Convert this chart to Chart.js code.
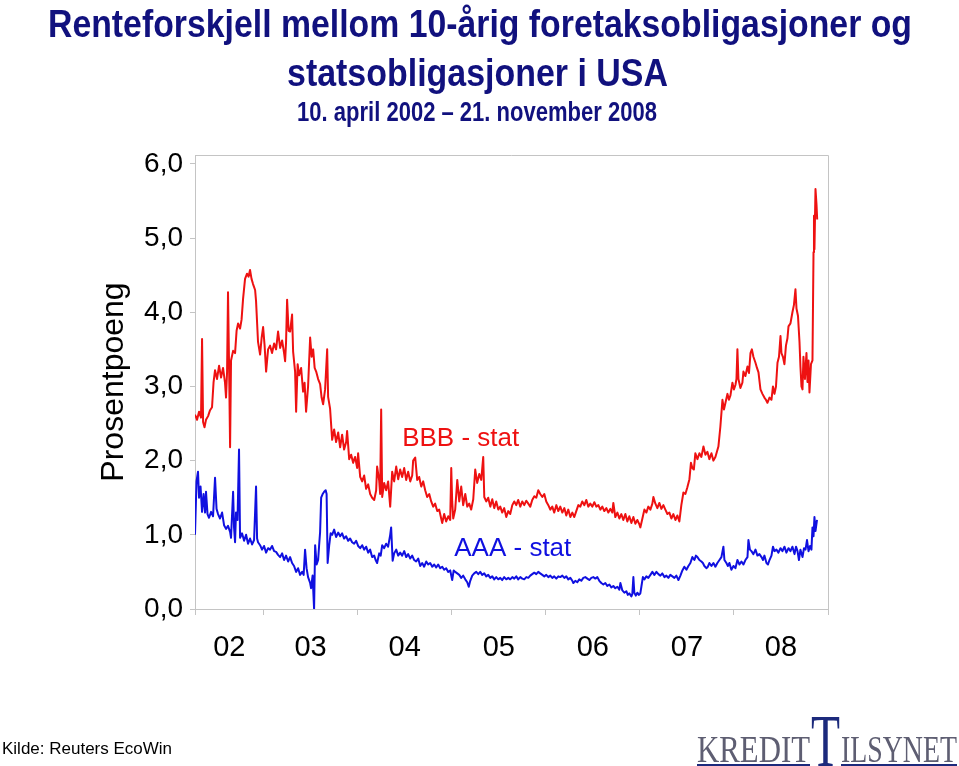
<!DOCTYPE html>
<html>
<head>
<meta charset="utf-8">
<script src="https://cdn.jsdelivr.net/npm/chart.js@4.4.1/dist/chart.umd.min.js"></script>
<style>
  html, body { margin: 0; padding: 0; background: #fff; }
  #wrap { width: 959px; height: 766px; position: relative; }
</style>
</head>
<body>
<div id="wrap"><canvas id="spreadChart"></canvas></div>
<script>
// daily spreads, dates as decimal years
const bbbDates = [
  2002.271, 2002.293, 2002.314, 2002.335, 2002.346, 2002.357, 2002.372, 2002.388, 2002.410, 2002.431, 2002.452, 2002.468, 2002.484, 2002.505, 2002.527, 2002.548, 2002.569, 2002.590, 2002.601, 2002.612, 2002.622, 2002.633, 2002.644, 2002.654, 2002.676, 2002.697, 2002.713, 2002.729, 2002.750, 2002.766, 2002.782, 2002.803, 2002.824, 2002.840, 2002.856, 2002.872, 2002.888, 2002.910, 2002.920, 2002.941, 2002.963, 2002.979, 2002.995,
  2003.011, 2003.027, 2003.048, 2003.069, 2003.090, 2003.112, 2003.133, 2003.154, 2003.176, 2003.197, 2003.218, 2003.229, 2003.239, 2003.250, 2003.266, 2003.282, 2003.303, 2003.314, 2003.335, 2003.346, 2003.362, 2003.378, 2003.399, 2003.420, 2003.436, 2003.452, 2003.473, 2003.495, 2003.511, 2003.527, 2003.543, 2003.559, 2003.580, 2003.601, 2003.617, 2003.633, 2003.654, 2003.676, 2003.686, 2003.707, 2003.729, 2003.750, 2003.771, 2003.793, 2003.814, 2003.835, 2003.856, 2003.878, 2003.888, 2003.910, 2003.931, 2003.952, 2003.973, 2003.995,
  2004.005, 2004.027, 2004.048, 2004.069, 2004.090, 2004.112, 2004.133, 2004.154, 2004.176, 2004.197, 2004.207, 2004.229, 2004.239, 2004.250, 2004.261, 2004.282, 2004.303, 2004.324, 2004.346, 2004.367, 2004.388, 2004.410, 2004.431, 2004.452, 2004.473, 2004.495, 2004.516, 2004.537, 2004.559, 2004.580, 2004.590, 2004.612, 2004.633, 2004.654, 2004.676, 2004.697, 2004.718, 2004.739, 2004.761, 2004.782, 2004.803, 2004.824, 2004.846, 2004.867, 2004.888, 2004.899, 2004.920, 2004.941, 2004.963, 2004.984, 2004.995,
  2005.005, 2005.016, 2005.037, 2005.059, 2005.080, 2005.101, 2005.122, 2005.144, 2005.165, 2005.186, 2005.207, 2005.229, 2005.250, 2005.271, 2005.293, 2005.314, 2005.335, 2005.346, 2005.367, 2005.388, 2005.410, 2005.431, 2005.452, 2005.473, 2005.495, 2005.516, 2005.537, 2005.558, 2005.580, 2005.601, 2005.622, 2005.644, 2005.665, 2005.686, 2005.707, 2005.729, 2005.750, 2005.771, 2005.793, 2005.814, 2005.835, 2005.856, 2005.878, 2005.899, 2005.920, 2005.941, 2005.963, 2005.984,
  2006.005, 2006.027, 2006.048, 2006.069, 2006.090, 2006.112, 2006.133, 2006.154, 2006.176, 2006.197, 2006.218, 2006.239, 2006.261, 2006.282, 2006.303, 2006.324, 2006.346, 2006.367, 2006.388, 2006.410, 2006.431, 2006.452, 2006.473, 2006.495, 2006.516, 2006.537, 2006.559, 2006.580, 2006.601, 2006.622, 2006.644, 2006.665, 2006.686, 2006.707, 2006.718, 2006.739, 2006.761, 2006.782, 2006.803, 2006.824, 2006.846, 2006.867, 2006.888, 2006.910, 2006.931, 2006.952, 2006.973, 2006.995,
  2007.005, 2007.027, 2007.048, 2007.069, 2007.090, 2007.112, 2007.133, 2007.144, 2007.165, 2007.186, 2007.207, 2007.229, 2007.250, 2007.271, 2007.293, 2007.314, 2007.335, 2007.356, 2007.378, 2007.399, 2007.420, 2007.441, 2007.463, 2007.484, 2007.505, 2007.527, 2007.543, 2007.558, 2007.574, 2007.590, 2007.612, 2007.633, 2007.654, 2007.676, 2007.697, 2007.718, 2007.739, 2007.761, 2007.782, 2007.803, 2007.819, 2007.835, 2007.856, 2007.878, 2007.894, 2007.910, 2007.931, 2007.947, 2007.963, 2007.984,
  2008.000, 2008.016, 2008.027, 2008.037, 2008.048, 2008.069, 2008.090, 2008.101, 2008.122, 2008.144, 2008.160, 2008.176, 2008.191, 2008.207, 2008.229, 2008.245, 2008.261, 2008.282, 2008.303, 2008.324, 2008.340, 2008.356, 2008.378, 2008.399, 2008.415, 2008.431, 2008.447, 2008.463, 2008.479, 2008.495, 2008.505, 2008.521, 2008.537, 2008.553, 2008.569, 2008.580, 2008.601, 2008.622, 2008.638, 2008.654, 2008.665, 2008.681, 2008.697, 2008.707, 2008.718, 2008.729, 2008.739, 2008.755, 2008.771, 2008.782, 2008.793, 2008.803, 2008.819, 2008.835, 2008.846, 2008.851, 2008.856, 2008.867, 2008.878, 2008.885
];
const bbbValues = [
  2.62, 2.55, 2.66, 2.58, 3.64, 2.52, 2.45, 2.55, 2.60, 2.68, 2.72, 3.05, 3.22, 3.10, 3.28, 3.12, 3.25, 3.05, 2.85, 3.20, 4.27, 3.30, 2.18, 3.35, 3.48, 3.45, 3.75, 3.85, 3.78, 3.90, 4.18, 4.45, 4.52, 4.48, 4.57, 4.45, 4.38, 4.30, 4.15, 3.60, 3.43, 3.65, 3.80,
  3.55, 3.20, 3.50, 3.55, 3.45, 3.58, 3.50, 3.74, 3.52, 3.62, 3.45, 3.34, 3.60, 4.17, 3.75, 3.74, 3.97, 3.47, 3.20, 2.66, 3.30, 3.15, 3.25, 2.93, 3.05, 2.66, 3.00, 3.66, 3.40, 3.50, 3.25, 3.20, 3.10, 3.03, 2.85, 2.76, 2.96, 3.50, 2.86, 2.70, 2.28, 2.42, 2.25, 2.38, 2.18, 2.35, 2.15, 2.25, 2.40, 2.02, 2.08, 1.97, 2.05, 1.90,
  2.10, 1.78, 1.72, 1.80, 1.62, 1.68, 1.55, 1.50, 1.47, 1.60, 1.92, 1.73, 1.55, 2.69, 1.51, 1.70, 1.60, 1.72, 1.38, 1.85, 1.72, 1.92, 1.75, 1.88, 1.78, 1.90, 1.74, 1.85, 1.72, 1.80, 2.00, 2.04, 1.74, 1.78, 1.65, 1.72, 1.60, 1.51, 1.55, 1.45, 1.38, 1.42, 1.32, 1.34, 1.22, 1.16, 1.28, 1.18, 1.25, 1.20, 1.90,
  1.45, 1.22, 1.34, 1.74, 1.45, 1.65, 1.40, 1.55, 1.38, 1.42, 1.34, 1.48, 1.88, 1.70, 1.82, 1.74, 2.05, 1.51, 1.45, 1.50, 1.38, 1.48, 1.36, 1.45, 1.34, 1.38, 1.30, 1.36, 1.24, 1.32, 1.28, 1.40, 1.45, 1.40, 1.47, 1.38, 1.45, 1.40, 1.46, 1.42, 1.38, 1.47, 1.52, 1.50, 1.60, 1.55, 1.51, 1.55,
  1.45, 1.40, 1.34, 1.38, 1.30, 1.40, 1.32, 1.38, 1.30, 1.36, 1.26, 1.34, 1.24, 1.30, 1.24, 1.32, 1.40, 1.38, 1.45, 1.40, 1.47, 1.38, 1.42, 1.38, 1.44, 1.38, 1.40, 1.34, 1.38, 1.32, 1.36, 1.30, 1.35, 1.30, 1.43, 1.24, 1.30, 1.22, 1.28, 1.20, 1.28, 1.18, 1.25, 1.16, 1.24, 1.15, 1.20, 1.14,
  1.10, 1.22, 1.34, 1.30, 1.38, 1.34, 1.42, 1.51, 1.42, 1.36, 1.43, 1.35, 1.40, 1.34, 1.28, 1.30, 1.22, 1.28, 1.20, 1.26, 1.18, 1.40, 1.57, 1.55, 1.64, 1.75, 1.97, 1.90, 1.88, 2.10, 2.02, 2.10, 2.05, 2.19, 2.08, 2.12, 2.02, 2.10, 2.00, 2.05, 2.12, 2.19, 2.46, 2.82, 2.69, 2.78, 2.90, 2.82, 2.88, 3.05,
  2.96, 3.02, 3.10, 3.50, 3.10, 2.98, 3.05, 3.20, 3.14, 3.27, 3.18, 3.45, 3.50, 3.40, 3.32, 3.25, 3.19, 2.96, 2.90, 2.85, 2.82, 2.78, 2.85, 2.82, 3.00, 2.90, 3.00, 3.32, 3.40, 3.68, 3.45, 3.40, 3.30, 3.55, 3.65, 3.81, 3.85, 4.00, 4.10, 4.31, 4.05, 3.95, 3.60, 3.27, 3.00, 2.96, 3.40, 3.10, 3.45, 3.06, 3.35, 2.92, 3.30, 3.35, 4.81, 5.30, 4.85, 5.66, 5.45, 5.25
];

const aaaDates = [
  2002.271, 2002.287, 2002.303, 2002.314, 2002.330, 2002.346, 2002.362, 2002.378, 2002.388, 2002.404, 2002.420, 2002.442, 2002.463, 2002.484, 2002.500, 2002.516, 2002.537, 2002.559, 2002.580, 2002.601, 2002.622, 2002.644, 2002.654, 2002.676, 2002.686, 2002.697, 2002.707, 2002.723, 2002.739, 2002.750, 2002.771, 2002.793, 2002.814, 2002.835, 2002.856, 2002.878, 2002.899, 2002.920, 2002.931, 2002.941, 2002.963, 2002.984,
  2003.005, 2003.027, 2003.048, 2003.069, 2003.090, 2003.112, 2003.133, 2003.154, 2003.176, 2003.197, 2003.218, 2003.239, 2003.261, 2003.282, 2003.303, 2003.324, 2003.346, 2003.367, 2003.388, 2003.410, 2003.426, 2003.441, 2003.457, 2003.473, 2003.495, 2003.505, 2003.521, 2003.537, 2003.548, 2003.564, 2003.580, 2003.590, 2003.601, 2003.612, 2003.628, 2003.644, 2003.660, 2003.670, 2003.681, 2003.697, 2003.713, 2003.729, 2003.750, 2003.771, 2003.793, 2003.814, 2003.835, 2003.856, 2003.878, 2003.899, 2003.920, 2003.941, 2003.963, 2003.984,
  2004.005, 2004.027, 2004.048, 2004.069, 2004.090, 2004.112, 2004.133, 2004.154, 2004.176, 2004.191, 2004.207, 2004.229, 2004.245, 2004.261, 2004.282, 2004.303, 2004.324, 2004.346, 2004.356, 2004.372, 2004.388, 2004.410, 2004.431, 2004.452, 2004.473, 2004.495, 2004.516, 2004.537, 2004.559, 2004.580, 2004.601, 2004.622, 2004.644, 2004.665, 2004.686, 2004.707, 2004.729, 2004.750, 2004.771, 2004.793, 2004.814, 2004.835, 2004.856, 2004.878, 2004.899, 2004.920, 2004.941, 2004.963, 2004.984,
  2005.005, 2005.021, 2005.037, 2005.059, 2005.080, 2005.101, 2005.122, 2005.144, 2005.165, 2005.181, 2005.197, 2005.218, 2005.239, 2005.261, 2005.282, 2005.303, 2005.324, 2005.346, 2005.367, 2005.388, 2005.410, 2005.431, 2005.452, 2005.473, 2005.495, 2005.516, 2005.537, 2005.558, 2005.580, 2005.601, 2005.622, 2005.644, 2005.665, 2005.686, 2005.707, 2005.729, 2005.750, 2005.771, 2005.793, 2005.814, 2005.835, 2005.856, 2005.878, 2005.899, 2005.920, 2005.941, 2005.963, 2005.984,
  2006.005, 2006.027, 2006.048, 2006.069, 2006.090, 2006.112, 2006.133, 2006.154, 2006.176, 2006.197, 2006.218, 2006.239, 2006.261, 2006.282, 2006.293, 2006.314, 2006.335, 2006.356, 2006.378, 2006.399, 2006.420, 2006.442, 2006.463, 2006.484, 2006.505, 2006.527, 2006.548, 2006.569, 2006.590, 2006.612, 2006.633, 2006.654, 2006.676, 2006.697, 2006.718, 2006.739, 2006.761, 2006.782, 2006.793, 2006.814, 2006.835, 2006.856, 2006.872, 2006.888, 2006.910, 2006.920, 2006.931, 2006.941, 2006.957, 2006.973, 2006.989,
  2007.005, 2007.016, 2007.032, 2007.048, 2007.069, 2007.090, 2007.112, 2007.133, 2007.154, 2007.176, 2007.197, 2007.218, 2007.239, 2007.261, 2007.282, 2007.303, 2007.324, 2007.346, 2007.367, 2007.388, 2007.410, 2007.431, 2007.452, 2007.473, 2007.495, 2007.516, 2007.537, 2007.558, 2007.580, 2007.596, 2007.612, 2007.633, 2007.654, 2007.670, 2007.686, 2007.707, 2007.723, 2007.739, 2007.761, 2007.782, 2007.803, 2007.824, 2007.846, 2007.867, 2007.888, 2007.899, 2007.920, 2007.936, 2007.952, 2007.973, 2007.995,
  2008.016, 2008.037, 2008.059, 2008.080, 2008.101, 2008.122, 2008.144, 2008.154, 2008.170, 2008.186, 2008.207, 2008.229, 2008.250, 2008.271, 2008.293, 2008.309, 2008.324, 2008.346, 2008.362, 2008.378, 2008.399, 2008.415, 2008.431, 2008.452, 2008.473, 2008.495, 2008.516, 2008.537, 2008.558, 2008.580, 2008.601, 2008.622, 2008.644, 2008.660, 2008.676, 2008.691, 2008.707, 2008.729, 2008.745, 2008.761, 2008.777, 2008.793, 2008.809, 2008.824, 2008.835, 2008.846, 2008.856, 2008.867, 2008.883
];
const aaaValues = [
  1.00, 1.72, 1.85, 1.50, 1.65, 1.31, 1.55, 1.30, 1.58, 1.28, 1.23, 1.31, 1.25, 1.77, 1.35, 1.28, 1.22, 1.30, 1.13, 1.08, 1.12, 1.04, 0.96, 1.58, 1.10, 0.90, 1.30, 1.20, 2.15, 0.96, 1.02, 0.92, 1.00, 0.88, 0.95, 0.87, 0.93, 1.65, 0.95, 0.90, 0.86, 0.80,
  0.85, 0.76, 0.82, 0.80, 0.85, 0.78, 0.77, 0.73, 0.70, 0.75, 0.66, 0.72, 0.64, 0.70, 0.62, 0.58, 0.50, 0.55, 0.46, 0.50, 0.46, 0.80, 0.55, 0.43, 0.35, 0.28, 0.45, 0.00, 0.86, 0.60, 0.66, 0.85, 1.04, 1.50, 1.55, 1.58, 1.60, 1.55, 0.62, 0.85, 1.02, 1.00, 1.07, 0.97, 1.03, 0.98, 1.02, 0.95, 0.98, 0.92, 0.95, 0.90, 0.88, 0.92,
  0.85, 0.82, 0.86, 0.80, 0.84, 0.76, 0.80, 0.70, 0.72, 0.66, 0.62, 0.75, 0.72, 0.86, 0.82, 0.88, 0.84, 1.00, 1.10, 0.65, 0.75, 0.80, 0.72, 0.76, 0.72, 0.78, 0.70, 0.74, 0.68, 0.72, 0.66, 0.64, 0.68, 0.58, 0.62, 0.57, 0.64, 0.60, 0.62, 0.57, 0.60, 0.56, 0.60, 0.55, 0.57, 0.53, 0.55, 0.50, 0.52,
  0.39, 0.52, 0.50, 0.48, 0.46, 0.42, 0.45, 0.40, 0.36, 0.30, 0.38, 0.45, 0.48, 0.50, 0.47, 0.50, 0.46, 0.48, 0.44, 0.46, 0.42, 0.44, 0.40, 0.43, 0.40, 0.42, 0.39, 0.43, 0.40, 0.42, 0.40, 0.43, 0.41, 0.44, 0.40, 0.43, 0.41, 0.40, 0.43, 0.42, 0.45, 0.47, 0.49, 0.47, 0.50, 0.48, 0.46, 0.44,
  0.46, 0.43, 0.45, 0.42, 0.44, 0.41, 0.44, 0.43, 0.45, 0.42, 0.44, 0.40, 0.42, 0.38, 0.35, 0.38, 0.36, 0.40, 0.38, 0.42, 0.43, 0.41, 0.39, 0.42, 0.43, 0.41, 0.43, 0.38, 0.35, 0.33, 0.35, 0.31, 0.33, 0.29, 0.31, 0.28, 0.30, 0.26, 0.35, 0.25, 0.22, 0.24, 0.19, 0.21, 0.17, 0.20, 0.43, 0.22, 0.18, 0.22, 0.19,
  0.21, 0.30, 0.43, 0.40, 0.44, 0.42, 0.46, 0.50, 0.46, 0.50, 0.47, 0.45, 0.48, 0.43, 0.45, 0.42, 0.46, 0.44, 0.42, 0.45, 0.39, 0.45, 0.52, 0.57, 0.53, 0.58, 0.62, 0.70, 0.66, 0.72, 0.70, 0.66, 0.64, 0.62, 0.58, 0.55, 0.57, 0.62, 0.58, 0.62, 0.57, 0.62, 0.66, 0.70, 0.84, 0.66, 0.62, 0.58, 0.62, 0.53, 0.58,
  0.55, 0.66, 0.60, 0.64, 0.60, 0.66, 0.70, 0.93, 0.80, 0.78, 0.74, 0.80, 0.72, 0.74, 0.70, 0.66, 0.72, 0.62, 0.60, 0.66, 0.72, 0.84, 0.78, 0.80, 0.76, 0.82, 0.78, 0.84, 0.76, 0.82, 0.78, 0.84, 0.74, 0.84, 0.78, 0.66, 0.80, 0.70, 0.82, 0.80, 0.93, 0.78, 0.85, 0.80, 1.10, 0.98, 1.24, 1.05, 1.20
];

// axis: year boundaries get tick marks, year labels sit mid-year
const yearBounds = [2002.271, 2003, 2004, 2005, 2006, 2007, 2008, 2009];
const yearMids = [2002.636, 2003.5, 2004.5, 2005.5, 2006.5, 2007.5, 2008.5];
const yearLabels = ['02', '03', '04', '05', '06', '07', '08'];
const yTicks = [0, 1, 2, 3, 4, 5, 6];

const titleLines = ['Renteforskjell mellom 10-årig foretaksobligasjoner og', 'statsobligasjoner i USA'];
const subtitleText = '10. april 2002 – 21. november 2008';
const seriesNames = ['BBB - stat', 'AAA - stat'];
const seriesLabelAt = [[2004.473, 2.30], [2005.027, 0.81]];

const sans = "'Liberation Sans', Arial, sans-serif";
const serif = "'Liberation Serif', 'DejaVu Serif', serif";
const red = '#ee1111';
const blue = '#1010e0';
const navy = '#11117e';
const frame = '#c4c4c4';

const toPoints = (dates, values) => dates.map((d, i) => ({ x: d, y: values[i] }));

// titles (squeezed like a narrow face), frame, series labels, source and logo
const extras = {
  id: 'extras',
  afterDatasetsDraw(chart) {
    const { ctx, chartArea: a, scales } = chart;
    ctx.save();
    ctx.strokeStyle = frame;
    ctx.lineWidth = 1;
    ctx.beginPath();
    ctx.moveTo(a.left, a.top + 0.5);
    ctx.lineTo(a.right + 0.5, a.top + 0.5);
    ctx.lineTo(a.right + 0.5, a.bottom);
    ctx.stroke();

    ctx.font = '26px ' + sans;
    ctx.textBaseline = 'middle';
    ctx.textAlign = 'left';
    [red, blue].forEach((c, i) => {
      ctx.fillStyle = c;
      const [lx, ly] = seriesLabelAt[i];
      ctx.fillText(seriesNames[i], scales.x.getPixelForValue(lx), scales.y.getPixelForValue(ly));
    });
    ctx.restore();
  },
  afterDraw(chart) {
    const { ctx } = chart;
    ctx.save();
    ctx.textBaseline = 'alphabetic';
    ctx.textAlign = 'center';
    ctx.fillStyle = navy;
    ctx.font = 'bold 39px ' + sans;
    ctx.fillText(titleLines[0], 480, 37, 864);
    ctx.fillText(titleLines[1], 477.5, 86, 381);
    ctx.font = 'bold 27px ' + sans;
    ctx.fillText(subtitleText, 477, 121, 360);

    ctx.textAlign = 'left';
    ctx.fillStyle = '#000';
    ctx.font = '17px ' + sans;
    ctx.fillText('Kilde: Reuters EcoWin', 2, 754);

    // Kredittilsynet logo
    ctx.fillStyle = '#5e5e72';
    ctx.font = '37px ' + serif;
    ctx.fillText('KREDIT', 697, 762, 113);
    ctx.fillText('ILSYNET', 841, 762, 116);
    ctx.fillStyle = '#1c2a7c';
    ctx.font = '74px ' + serif;
    ctx.fillText('T', 811, 766, 29);
    ctx.fillRect(697, 764, 113, 2);
    ctx.fillRect(841, 764, 116, 2);
    ctx.restore();
  }
};

new Chart(document.getElementById('spreadChart'), {
  type: 'line',
  data: {
    datasets: [
      {
        label: seriesNames[0],
        data: toPoints(bbbDates, bbbValues),
        borderColor: red,
        borderWidth: 2,
        pointRadius: 0,
        tension: 0,
        borderJoinStyle: 'round'
      },
      {
        label: seriesNames[1],
        data: toPoints(aaaDates, aaaValues),
        borderColor: blue,
        borderWidth: 2,
        pointRadius: 0,
        tension: 0,
        borderJoinStyle: 'round'
      }
    ]
  },
  options: {
    animation: false,
    responsive: true,
    maintainAspectRatio: false,
    devicePixelRatio: 1,
    layout: { padding: { left: 0, right: 131, top: 155, bottom: 0 } },
    plugins: {
      legend: { display: false },
      tooltip: { enabled: false },
      title: { display: false },
      subtitle: { display: false }
    },
    scales: {
      x: {
        type: 'linear',
        min: 2002.271,
        max: 2009,
        afterBuildTicks: s => { s.ticks = yearBounds.concat(yearMids).sort((p, q) => p - q).map(v => ({ value: v })); },
        afterFit: s => { s.height = 157; },
        border: { color: frame },
        grid: {
          drawOnChartArea: false,
          tickLength: 6,
          tickColor: c => (c.tick && yearMids.includes(c.tick.value)) ? 'rgba(0,0,0,0)' : frame
        },
        ticks: {
          autoSkip: false,
          maxRotation: 0,
          padding: 16,
          color: '#000',
          font: { family: sans, size: 29 },
          callback: v => { const i = yearMids.indexOf(v); return i < 0 ? '' : yearLabels[i]; }
        }
      },
      y: {
        min: 0,
        max: 6.12,
        afterBuildTicks: s => { s.ticks = yTicks.map(v => ({ value: v })); },
        afterFit: s => { s.width = 195; },
        border: { color: frame },
        grid: { drawOnChartArea: false, tickLength: 5, color: frame },
        ticks: {
          padding: 7,
          color: '#000',
          font: { family: sans, size: 28 },
          callback: v => v.toFixed(1).replace('.', ',')
        },
        title: {
          display: true,
          text: 'Prosentpoeng',
          color: '#000',
          font: { family: sans, size: 32 },
          padding: { top: 95, bottom: 0 }
        }
      }
    }
  },
  plugins: [extras]
});
</script>
</body>
</html>
